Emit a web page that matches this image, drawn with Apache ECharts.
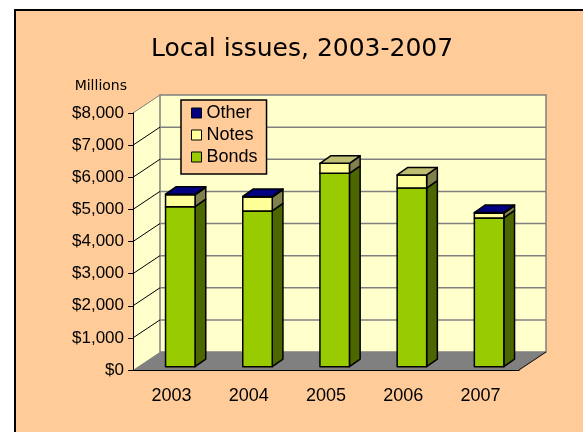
<!DOCTYPE html>
<html>
<head>
<meta charset="utf-8">
<script src="https://cdn.jsdelivr.net/npm/echarts@6/dist/echarts.min.js"></script>
<style>
  html, body { margin: 0; padding: 0; background: #ffffff; }
  #chart { width: 583px; height: 432px; }
</style>
</head>
<body>
<div id="chart"></div>
<script>
// Local issues by type, millions of dollars
const years = ['2003', '2004', '2005', '2006', '2007'];
const bonds = [4980, 4850, 6020, 5560, 4630];
const notes = [370, 430, 310, 410, 150];
const other = [20, 20, 0, 0, 20];
const yTicks = [0, 1000, 2000, 3000, 4000, 5000, 6000, 7000, 8000];

const FONT = "'Liberation Sans', Arial, sans-serif";
const WIDE = "'DejaVu Sans', Verdana, sans-serif";

// pseudo-3D geometry (pixels)
const WALL_DX = 27, WALL_DY = -18;     // depth of the floor / back wall
const FACE_DX = 8.7, FACE_DY = -3.3;   // bar front face relative to the axis plane
const BAR_W = 29.5;                    // bar front face width
const BAR_DX = 10.7, BAR_DY = -7.5;    // bar depth

const palette = {
  Bonds: { front: '#99CC00', side: '#4C6600', top: '#73991A' },
  Notes: { front: '#FFFF99', side: '#80804C', top: '#BFBF73' },
  Other: { front: '#000080', side: '#000040', top: '#000080' }
};

// stacked segments: [category, base, top, isTopmost]
const stacks = [bonds, notes, other];
const names = ['Bonds', 'Notes', 'Other'];
function segments(k) {
  return years.map((_, i) => {
    let base = 0;
    for (let j = 0; j < k; j++) base += stacks[j][i];
    const hi = base + stacks[k][i];
    let topmost = stacks[k][i] > 0 ? 1 : 0;
    for (let j = k + 1; j < stacks.length; j++) if (stacks[j][i] > 0) topmost = 0;
    return [i, base, hi, topmost];
  });
}

function renderPrism(colors) {
  return function (params, api) {
    const cat = api.value(0), lo = api.value(1), hi = api.value(2), isTop = api.value(3);
    if (hi <= lo) return { type: 'group', children: [] };
    const pLo = api.coord([cat, lo]);
    const pHi = api.coord([cat, hi]);
    const x0 = pLo[0] + FACE_DX - BAR_W / 2, x1 = x0 + BAR_W;
    const yB = pLo[1] + FACE_DY, yT = pHi[1] + FACE_DY;
    const stroke = { stroke: '#000', lineWidth: 1.5, lineJoin: 'round' };
    const children = [
      { type: 'polygon', shape: { points: [[x1, yB], [x1 + BAR_DX, yB + BAR_DY], [x1 + BAR_DX, yT + BAR_DY], [x1, yT]] },
        style: Object.assign({ fill: colors.side }, stroke) },
      { type: 'polygon', shape: { points: [[x0, yB], [x1, yB], [x1, yT], [x0, yT]] },
        style: Object.assign({ fill: colors.front }, stroke) }
    ];
    if (isTop) {
      children.push({ type: 'polygon', shape: { points: [[x0, yT], [x1, yT], [x1 + BAR_DX, yT + BAR_DY], [x0 + BAR_DX, yT + BAR_DY]] },
        style: Object.assign({ fill: colors.top }, stroke) });
    }
    return { type: 'group', children };
  };
}

function renderWalls(params, api) {
  const r = params.coordSys;
  const L = r.x, R = r.x + r.width, T = r.y, B = r.y + r.height;
  const children = [];
  // side wall
  children.push({ type: 'polygon', shape: { points: [[L, B], [L, T], [L + WALL_DX, T + WALL_DY], [L + WALL_DX, B + WALL_DY]] },
    style: { fill: '#FFFFCC', stroke: null } });
  // back wall
  children.push({ type: 'rect', shape: { x: L + WALL_DX, y: T + WALL_DY, width: R - L, height: B - T },
    style: { fill: '#FFFFCC', stroke: '#808080', lineWidth: 1.5 } });
  // gridlines on back wall and side wall
  yTicks.forEach(v => {
    const y = api.coord([0, v])[1];
    if (v > 0 && v < yTicks[yTicks.length - 1]) {
      children.push({ type: 'line', shape: { x1: L + WALL_DX, y1: y + WALL_DY, x2: R + WALL_DX, y2: y + WALL_DY },
        style: { stroke: '#808080', lineWidth: 1.5 } });
    }
    if (v > 0) {
      children.push({ type: 'line', shape: { x1: L, y1: y, x2: L + WALL_DX, y2: y + WALL_DY },
        style: { stroke: v === yTicks[yTicks.length - 1] ? '#808080' : '#000', lineWidth: 1 } });
    }
  });
  // floor
  children.push({ type: 'polygon', shape: { points: [[L, B], [R, B], [R + WALL_DX, B + WALL_DY], [L + WALL_DX, B + WALL_DY]] },
    style: { fill: '#808080', stroke: null } });
  children.push({ type: 'line', shape: { x1: R, y1: B, x2: R + WALL_DX, y2: B + WALL_DY },
    style: { stroke: '#000', lineWidth: 1 } });
  return { type: 'group', children };
}

const series = [{
  type: 'custom', name: 'walls', silent: true, z: 1,
  renderItem: renderWalls, data: [[0, 0]], clip: false
}];
names.forEach((n, k) => {
  series.push({
    type: 'custom', name: n, z: 3, clip: false,
    itemStyle: { color: palette[n].front },
    renderItem: renderPrism(palette[n]),
    encode: { x: 0, y: 2 },
    data: segments(k)
  });
});

const chart = echarts.init(document.getElementById('chart'), null, { renderer: 'canvas' });
chart.setOption({
  animation: false,
  backgroundColor: '#ffffff',
  graphic: [{
    type: 'rect', z: -10, silent: true,
    shape: { x: 15, y: 10, width: 620, height: 460 },
    style: { fill: '#FFCC99', stroke: '#000', lineWidth: 2 }
  }],
  title: {
    text: 'Local issues, 2003-2007', left: 146, top: 32,
    textStyle: { fontFamily: WIDE, fontSize: 25, fontWeight: 'normal', color: '#000' }
  },
  legend: {
    data: ['Other', 'Notes', 'Bonds'],
    orient: 'vertical', left: 181, top: 100,
    itemWidth: 10, itemHeight: 10, itemGap: 4,
    icon: 'rect',
    backgroundColor: '#FFCC99', borderColor: '#000', borderWidth: 1.5, borderRadius: 0,
    padding: [4, 9, 8, 10],
    itemStyle: { borderColor: '#000', borderWidth: 1 },
    textStyle: { fontFamily: FONT, fontSize: 18, color: '#000' }
  },
  grid: { left: 133, top: 113, width: 386, height: 257 },
  xAxis: {
    type: 'category', data: years, z: 5,
    axisLine: { lineStyle: { color: '#000', width: 1 } },
    axisTick: { length: 6, lineStyle: { color: '#000' } },
    axisLabel: { margin: 17, fontFamily: FONT, fontSize: 18, color: '#000' },
    splitLine: { show: false }
  },
  yAxis: {
    type: 'value', min: yTicks[0], max: yTicks[yTicks.length - 1], interval: yTicks[1] - yTicks[0], z: 5,
    name: 'Millions', nameLocation: 'end', nameGap: 27,
    nameTextStyle: { fontFamily: WIDE, fontSize: 14, color: '#000', align: 'right', verticalAlign: 'middle', padding: [0, 6, 0, 0] },
    axisLine: { show: true, lineStyle: { color: '#000', width: 1 } },
    axisTick: { show: true, length: 5, lineStyle: { color: '#000' } },
    axisLabel: {
      margin: 9, fontFamily: FONT, fontSize: 17, color: '#000',
      formatter: v => '$' + v.toLocaleString('en-US')
    },
    splitLine: { show: false }
  },
  series
});
</script>
</body>
</html>
